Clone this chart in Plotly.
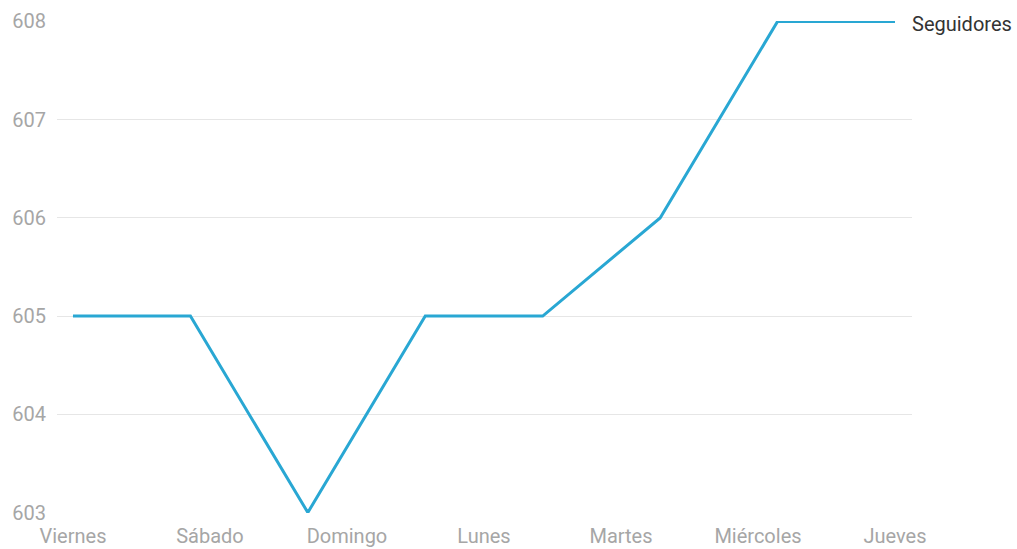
import plotly.graph_objects as go

dias = ["Viernes", "Sábado", "Domingo", "Lunes", "Martes", "Miércoles", "Jueves"]
seguidores = [605, 605, 603, 605, 605, 606, 608, 608]
serie = "Seguidores"
y_ticks = [603, 604, 605, 606, 607, 608]

n = len(seguidores)
x_vals = list(range(n))
# day labels are spread evenly across the full span of the series
paso = (n - 1) / (len(dias) - 1)
x_ticks = [i * paso for i in range(len(dias))]

fig = go.Figure()
fig.add_trace(go.Scatter(
    x=x_vals, y=seguidores, mode="lines",
    line=dict(color="#29a7d3", width=3), name=serie, showlegend=False,
    hoverinfo="skip",
))

fig.add_annotation(
    x=x_vals[-1], y=seguidores[-1], xref="x", yref="y",
    text=serie, showarrow=False, xanchor="left", xshift=15, yshift=-3,
    font=dict(family="Roboto", size=20, color="#333333"),
)

fig.update_layout(
    width=1017, height=549,
    margin=dict(l=57, r=105, t=21, b=36),
    paper_bgcolor="white", plot_bgcolor="white",
    font=dict(family="Roboto", size=20, color="#a6a6a6"),
    xaxis=dict(
        tickmode="array", tickvals=x_ticks, ticktext=dias,
        range=[-0.136, 7.145], showgrid=False, zeroline=False, showline=False,
        ticks="", ticklabelstandoff=9, automargin=False,
    ),
    yaxis=dict(
        tickmode="array", tickvals=y_ticks, ticktext=[str(v) for v in y_ticks],
        range=[602.995, 608.005], showgrid=True, gridcolor="#e6e6e6", gridwidth=1,
        zeroline=False, showline=False, ticks="", ticklabelstandoff=10,
        automargin=False,
    ),
)

fig.write_html("out.html")
